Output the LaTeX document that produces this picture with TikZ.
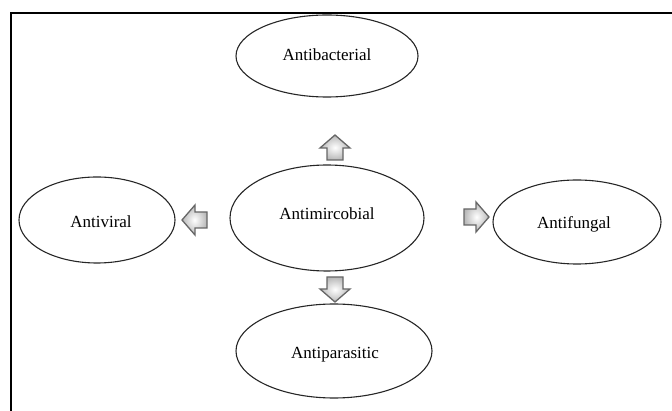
\documentclass[tikz,border=0pt]{standalone}
\usepackage{fontspec}
\setmainfont{Liberation Serif}
\begin{document}
\begin{tikzpicture}[x=1pt,y=-1pt,
  bubble/.style={draw=black!85,line width=1.1pt},
  lbl/.style={font=\fontsize{17}{20}\selectfont},
  blockarrow/.style={draw=black!60,line width=1.3pt,line join=miter,inner color=white,outer color=black!28},
  pics/barrow/.style={code={\path[blockarrow] (0,-13) -- (15,0) -- (8,0) -- (8,12) -- (-8,12) -- (-8,0) -- (-15,0) -- cycle;}}]
\useasboundingbox (0,0) rectangle (672,411);
\draw[line width=2pt] (11,411) -- (11,13) -- (672,13);
\draw[bubble] (327,56) ellipse [x radius=91,y radius=41];
\node[lbl] (bac) at (327,55) {Antibacterial};
\draw[bubble] (327,218) ellipse [x radius=97,y radius=53];
\node[lbl] (mic) at (327,214) {Antimircobial};
\draw[bubble] (97,220) ellipse [x radius=78,y radius=43];
\node[lbl] (vir) at (101,222) {Antiviral};
\draw[bubble] (577,222) ellipse [x radius=84,y radius=42];
\node[lbl] (fun) at (574,224) {Antifungal};
\draw[bubble] (334,351) ellipse [x radius=98,y radius=47];
\node[lbl] (par) at (335,355) {Antiparasitic};
\coordinate (au) at (335,148);
\coordinate (al) at (195,220);
\coordinate (ar) at (476,217);
\coordinate (ad) at (335,289);
\pic at (au) {barrow};
\pic[rotate=90] at (al) {barrow};
\pic[rotate=-90] at (ar) {barrow};
\pic[rotate=180] at (ad) {barrow};
\end{tikzpicture}
\end{document}
